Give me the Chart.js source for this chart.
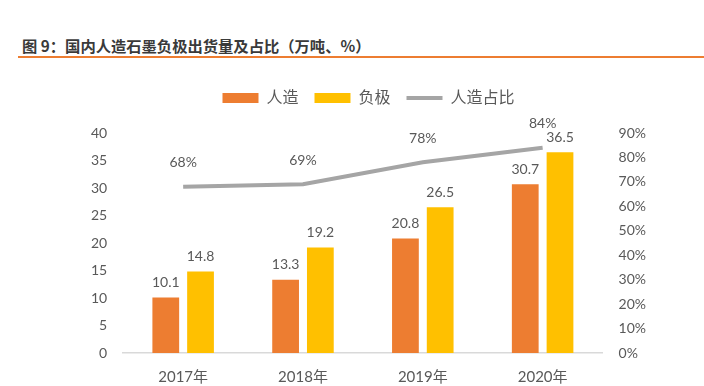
<!DOCTYPE html>
<html>
<head>
<meta charset="utf-8">
<script src="https://cdn.jsdelivr.net/npm/chart.js@4"></script>
<style>
  body { margin: 0; background: #fff; width: 704px; height: 386px; position: relative; overflow: hidden; }
  #title { position: absolute; left: 22px; top: 34px; font: bold 15.3px "Noto Sans CJK SC", sans-serif; color: #3a3a3a; }
  #rule { position: absolute; left: 18px; right: 0; top: 56px; height: 2px; background: #ED7D31; }
  #wrap { position: absolute; left: 0; top: 70px; width: 704px; height: 331px; }
</style>
</head>
<body>
<div id="title">图 9：国内人造石墨负极出货量及占比（万吨、%）</div>
<div id="rule"></div>
<div id="wrap"><canvas id="chart"></canvas></div>
<script>
const years = ['2017年', '2018年', '2019年', '2020年'];
const artificial = [10.1, 13.3, 20.8, 30.7];   // 人造
const anode = [14.8, 19.2, 26.5, 36.5];        // 负极
const share = [68, 69, 78, 84];                // 人造占比 %

const FONT = 'Lato, "Noto Sans CJK SC", sans-serif';
const GREY_TEXT = '#595959';

// simple value labels drawn from the element positions
const valueLabels = {
    id: 'valueLabels',
    afterDatasetsDraw(chart) {
        const ctx = chart.ctx;
        ctx.save();
        ctx.fillStyle = GREY_TEXT;
        ctx.font = '14px ' + FONT;
        ctx.textAlign = 'center';
        ctx.textBaseline = 'middle';
        chart.data.datasets.forEach((ds, i) => {
            const meta = chart.getDatasetMeta(i);
            meta.data.forEach((el, j) => {
                const v = ds.data[j];
                if (ds.type === 'line') {
                    ctx.fillText(v + '%', el.x, el.y - 24);
                } else {
                    ctx.fillText(v.toFixed(1), el.x, el.y - 15);
                }
            });
        });
        ctx.restore();
    }
};

// extra room between legend and plot
const legendGap = {
    id: 'legendGap',
    beforeInit(chart) {
        const fit = chart.legend.fit;
        chart.legend.fit = function () {
            fit.bind(chart.legend)();
            this.height += 17;
        };
    }
};

const ctx = document.getElementById('chart').getContext('2d');
new Chart(ctx, {
    data: {
        labels: years,
        datasets: [
            {
                type: 'bar',
                label: '人造',
                data: artificial,
                backgroundColor: '#ED7D31',
                yAxisID: 'y',
                categoryPercentage: 0.58,
                barPercentage: 0.77,
                order: 2,
            },
            {
                type: 'bar',
                label: '负极',
                data: anode,
                backgroundColor: '#FFC000',
                yAxisID: 'y',
                categoryPercentage: 0.58,
                barPercentage: 0.77,
                order: 2,
            },
            {
                type: 'line',
                label: '人造占比',
                data: share,
                borderColor: '#A5A5A5',
                backgroundColor: '#A5A5A5',
                borderWidth: 4,
                pointRadius: 0,
                tension: 0,
                yAxisID: 'y1',
                order: 1,
            },
        ],
    },
    options: {
        responsive: true,
        maintainAspectRatio: false,
        animation: false,
        layout: { padding: { left: 75, right: 42, top: 4, bottom: 0 } },
        plugins: {
            tooltip: { enabled: false },
            legend: {
                position: 'top',
                labels: {
                    color: GREY_TEXT,
                    font: { size: 16, family: FONT },
                    usePointStyle: true,
                    pointStyleWidth: 36,
                    boxHeight: 10,
                    padding: 16,
                    sort: (a, b) => a.datasetIndex - b.datasetIndex,
                    generateLabels(chart) {
                        const items = Chart.defaults.plugins.legend.labels.generateLabels(chart);
                        items.forEach(it => {
                            if (it.datasetIndex === 2) {
                                it.pointStyle = 'line';
                                it.lineWidth = 4;
                                it.strokeStyle = '#A5A5A5';
                            } else {
                                it.pointStyle = 'rect';
                                it.lineWidth = 0;
                            }
                        });
                        return items;
                    },
                },
            },
        },
        scales: {
            x: {
                grid: { display: false, drawTicks: false },
                border: { display: true, color: '#D9D9D9', width: 1.5 },
                ticks: { color: GREY_TEXT, font: { size: 15, family: FONT }, padding: 15 },
            },
            y: {
                position: 'left',
                min: 0,
                max: 40,
                grid: { display: false, drawTicks: false },
                border: { display: false },
                ticks: { stepSize: 5, color: GREY_TEXT, font: { size: 14, family: FONT }, padding: 16 },
            },
            y1: {
                position: 'right',
                min: 0,
                max: 90,
                grid: { display: false, drawTicks: false },
                border: { display: false },
                ticks: {
                    stepSize: 10,
                    color: GREY_TEXT,
                    font: { size: 14, family: FONT },
                    padding: 16,
                    callback: v => v + '%',
                },
            },
        },
    },
    plugins: [valueLabels, legendGap],
});
</script>
</body>
</html>
